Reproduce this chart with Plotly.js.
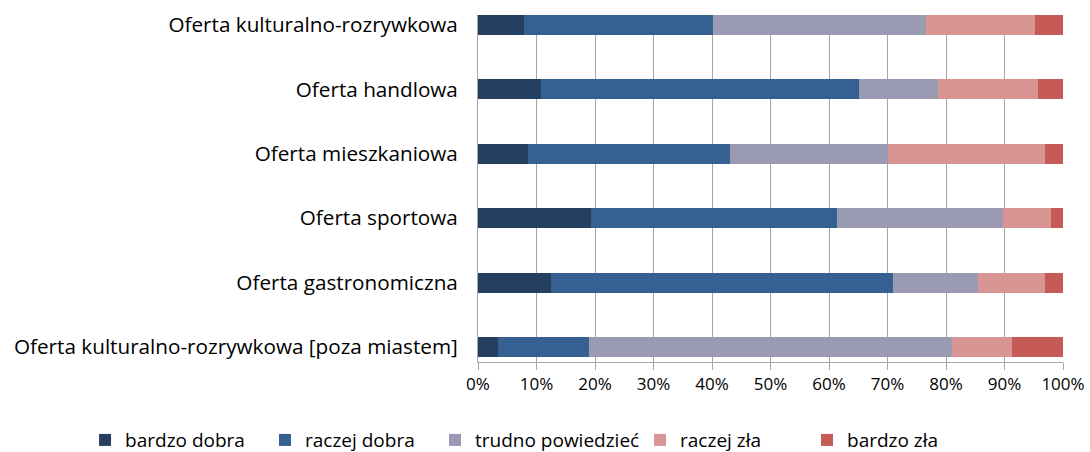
<!DOCTYPE html>
<html>
<head>
<meta charset="utf-8">
<script src="https://cdn.plot.ly/plotly-3.0.1.min.js"></script>
<style>html,body{margin:0;padding:0;background:#fff;}#chart{width:1090px;height:452px;}</style>
</head>
<body>
<div id="chart"></div>
<script>
const categories = [
  "Oferta kulturalno-rozrywkowa",
  "Oferta handlowa",
  "Oferta mieszkaniowa",
  "Oferta sportowa",
  "Oferta gastronomiczna",
  "Oferta kulturalno-rozrywkowa [poza miastem]"
];
const seriesNames = ["bardzo dobra", "raczej dobra", "trudno powiedzieć", "raczej zła", "bardzo zła"];
const bardzoDobra    = [7.9, 10.8, 8.6, 19.4, 12.5, 3.4];
const raczejDobra    = [32.3, 54.3, 34.5, 41.9, 58.4, 15.6];
const trudnoPowiedz  = [36.3, 13.6, 26.9, 28.5, 14.5, 62.1];
const raczejZla      = [18.7, 17.1, 26.9, 8.2, 11.5, 10.1];
const bardzoZla      = [4.8, 4.2, 3.1, 2.0, 3.1, 8.8];
const xTickVals = [0,10,20,30,40,50,60,70,80,90,100];
const xTickText = ["0%","10%","20%","30%","40%","50%","60%","70%","80%","90%","100%"];

const colors = ["#243F60", "#376092", "#9A9AB3", "#D99594", "#C55A57"];
const seriesData = [bardzoDobra, raczejDobra, trudnoPowiedz, raczejZla, bardzoZla];
const legendIds = ["legend", "legend2", "legend3", "legend4", "legend5"];
const legendX = [-0.6717, -0.3641, -0.0735, 0.2770, 0.5624];

const traces = seriesData.map((vals, i) => ({
  type: "bar",
  orientation: "h",
  name: seriesNames[i],
  x: vals,
  y: categories,
  width: 0.31,
  legend: legendIds[i],
  marker: {color: colors[i], line: {width: 0}},
  hoverinfo: "x+name"
}));

const font = "'Open Sans', Lato, sans-serif";
const layout = {
  width: 1090,
  height: 452,
  barmode: "stack",
  paper_bgcolor: "#ffffff",
  plot_bgcolor: "#ffffff",
  margin: {l: 478, r: 27, t: 15, b: 90, autoexpand: false},
  font: {family: font, size: 17, color: "#000"},
  xaxis: {
    range: [0, 100],
    tickvals: xTickVals,
    ticktext: xTickText,
    showgrid: true,
    gridcolor: "#A6A6A6",
    gridwidth: 1,
    showline: true,
    linecolor: "#A6A6A6",
    linewidth: 1,
    ticks: "outside",
    ticklen: 7,
    tickcolor: "#A6A6A6",
    zeroline: false,
    tickfont: {family: font, size: 17, color: "#000"},
    fixedrange: true
  },
  yaxis: {
    type: "category",
    categoryorder: "array",
    categoryarray: categories,
    range: [5.233, -0.155],
    showgrid: false,
    showline: true,
    linecolor: "#A6A6A6",
    linewidth: 1,
    ticks: "",
    ticklabelstandoff: 15,
    tickfont: {family: font, size: 20.7, color: "#000"},
    zeroline: false,
    fixedrange: true
  },
  showlegend: true
};

legendIds.forEach((id, i) => {
  layout[id] = {
    orientation: "h",
    xref: "paper",
    yref: "paper",
    x: legendX[i],
    xanchor: "left",
    y: -0.225,
    yanchor: "middle",
    font: {family: font, size: 19, color: "#000"},
    itemwidth: 30,
    bgcolor: "rgba(0,0,0,0)"
  };
});

Plotly.newPlot("chart", traces, layout, {displayModeBar: false, staticPlot: true});
</script>
</body>
</html>
